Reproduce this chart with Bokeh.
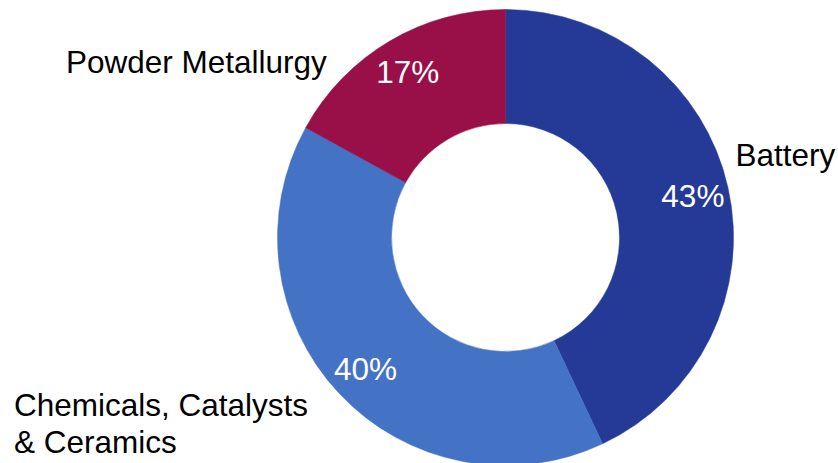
import math
from bokeh.plotting import figure
from bokeh.models import Range1d
from bokeh.core.properties import value
from bokeh.embed import file_html
from bokeh.resources import INLINE

# ---- data ----
categories = ["Battery", "Chemicals, Catalysts\n& Ceramics", "Powder Metallurgy"]
shares = [43, 40, 17]
pct_labels = ["43%", "40%", "17%"]
colors = ["#253A97", "#4472C4", "#990F47"]

W, H = 838, 463
p = figure(width=W, height=H, output_backend="svg", toolbar_location=None,
           x_range=Range1d(0, W), y_range=Range1d(0, H), min_border=0)
p.axis.visible = False
p.grid.visible = False
p.outline_line_color = None
p.background_fill_color = "white"
p.border_fill_color = "white"

cx, cy = 505, H - 237
r_out, r_in = 228, 114
r_lab = 192
FONT = value("Liberation Sans")
FSIZE = "31.5px"
LINE_STEP = 37

total = float(sum(shares))
starts, ends, mids = [], [], []
cum = 0.0
for s in shares:
    a0 = math.pi / 2 - 2 * math.pi * cum / total
    cum += s
    a1 = math.pi / 2 - 2 * math.pi * cum / total
    starts.append(a0)
    ends.append(a1)
    mids.append((a0 + a1) / 2)

p.annular_wedge(x=[cx] * len(shares), y=[cy] * len(shares),
                inner_radius=r_in, outer_radius=r_out,
                start_angle=starts, end_angle=ends, direction="clock",
                fill_color=colors, line_color=colors, line_width=0.5)

lx = [cx + r_lab * math.cos(m) for m in mids]
ly = [cy + r_lab * math.sin(m) for m in mids]
p.text(x=lx, y=ly, text=pct_labels, text_color="white",
       text_font=FONT, text_font_size=FSIZE,
       text_align="center", text_baseline="alphabetic")

# category labels (outside); anchors are first-line baselines in page pixels
anchors = [(735, 165), (13.5, 415), (65.5, 72)]
for name, (ax, ay) in zip(categories, anchors):
    for i, line in enumerate(name.split("\n")):
        p.text(x=[ax], y=[H - ay - i * LINE_STEP + 11], text=[line],
               text_color="black", text_font=FONT, text_font_size=FSIZE,
               text_align="left", text_baseline="alphabetic")

open("out.html", "w").write(file_html(p, INLINE))
